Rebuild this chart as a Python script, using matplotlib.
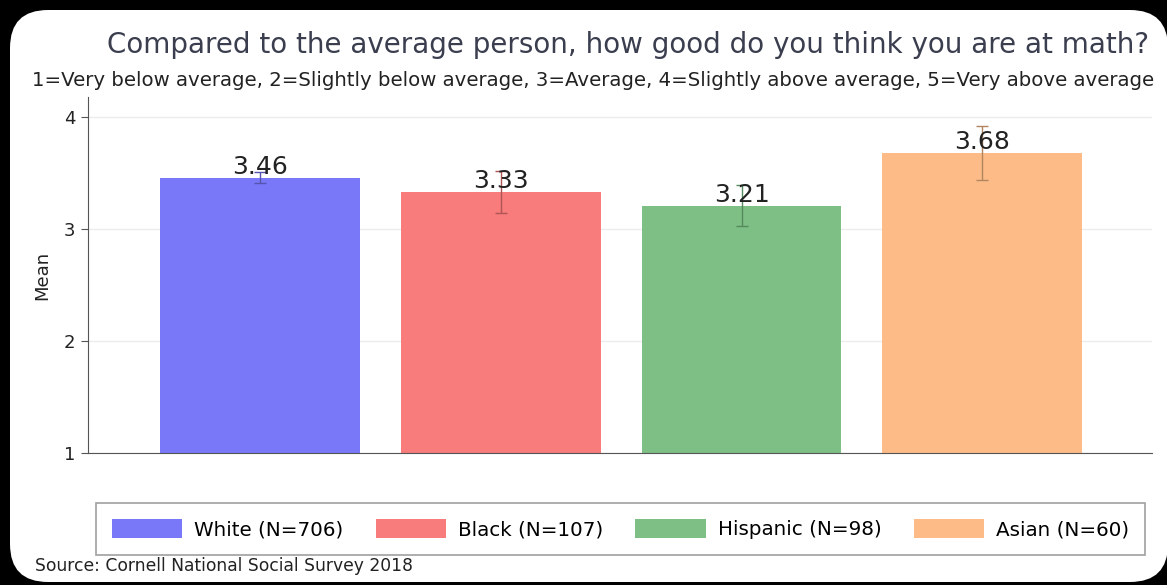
import matplotlib
matplotlib.use("Agg")
import matplotlib.pyplot as plt
import matplotlib.patches as mpatches
from matplotlib.transforms import IdentityTransform
import numpy as np

plt.rcParams['font.family'] = ['DejaVu Sans']

groups = ["White (N=706)", "Black (N=107)", "Hispanic (N=98)", "Asian (N=60)"]
means = [3.46, 3.33, 3.21, 3.68]
ci = [0.05, 0.19, 0.18, 0.24]
labels = ["3.46", "3.33", "3.21", "3.68"]
colors = ["#7878f8", "#f87c7c", "#7dbf85", "#fdbb87"]
err_colors = ["#5555b0", "#b05555", "#558a5c", "#b08560"]
yticks = [1, 2, 3, 4]

title = "Compared to the average person, how good do you think you are at math?"
subtitle = ("1=Very below average, 2=Slightly below average, 3=Average, "
            "4=Slightly above average, 5=Very above average")
source = "Source: Cornell National Social Survey 2018"

fig = plt.figure(figsize=(11.67, 5.85), dpi=100)
fig.patch.set_facecolor("black")
panel = mpatches.FancyBboxPatch((10, 3), 1158, 572,
                                boxstyle="round,pad=0,rounding_size=38",
                                transform=IdentityTransform(),
                                facecolor="white", edgecolor="none", zorder=-10)
fig.patches.append(panel)

ax = fig.add_axes([88/1167, 1-453/585, (1152-88)/1167, (453-97)/585])
ax.set_facecolor("none")
x = np.arange(len(groups))
bars = ax.bar(x, np.array(means) - 1, bottom=1, width=0.83, color=colors,
              zorder=2)
for i in range(len(groups)):
    ax.errorbar(x[i], means[i], yerr=ci[i], color=err_colors[i], lw=1,
                capsize=4, capthick=1, zorder=3)
    ax.text(x[i], means[i] - 0.01, labels[i], ha="center", va="bottom",
            fontsize=18, color="#222222", zorder=4)

ax.set_xlim(-0.715, 3.705)
ax.set_ylim(1, 4.18)
ax.set_yticks(yticks)
ax.set_yticklabels([str(t) for t in yticks], fontsize=13, color="#222222")
ax.set_xticks([])
ax.grid(axis="y", color="#ececec", lw=1, zorder=0)
for s in ["top", "right"]:
    ax.spines[s].set_visible(False)
ax.spines["left"].set_color("#555555")
ax.spines["bottom"].set_color("#555555")
ax.tick_params(axis="y", length=5, color="#555555", pad=4)
ax.set_ylabel("Mean", fontsize=13, color="#222222", labelpad=9)

fig.text(628/1167, 1-45/585, title, ha="center", va="center",
         fontsize=20, color="#3a3e4e")
fig.text(593/1167, 1-80/585, subtitle, ha="center", va="center",
         fontsize=14.2, color="#222222")
fig.text(35/1167, 1-566/585, source, ha="left", va="center",
         fontsize=12.3, color="#222222")

handles = [mpatches.Patch(facecolor=c, edgecolor="none") for c in colors]
leg = fig.legend(handles, groups, ncol=4, loc="center", mode="expand",
                 bbox_to_anchor=(96/1167, 1-553/585, (1145-96)/1167, 48/585),
                 fontsize=14.3, borderaxespad=0,
                 frameon=True, fancybox=False, edgecolor="#888888",
                 handlelength=3.55, handleheight=1.15, columnspacing=1.6,
                 handletextpad=0.6, borderpad=0.8)
leg.get_frame().set_linewidth(1.2)

fig.savefig("out.png", dpi=100, facecolor="black")
